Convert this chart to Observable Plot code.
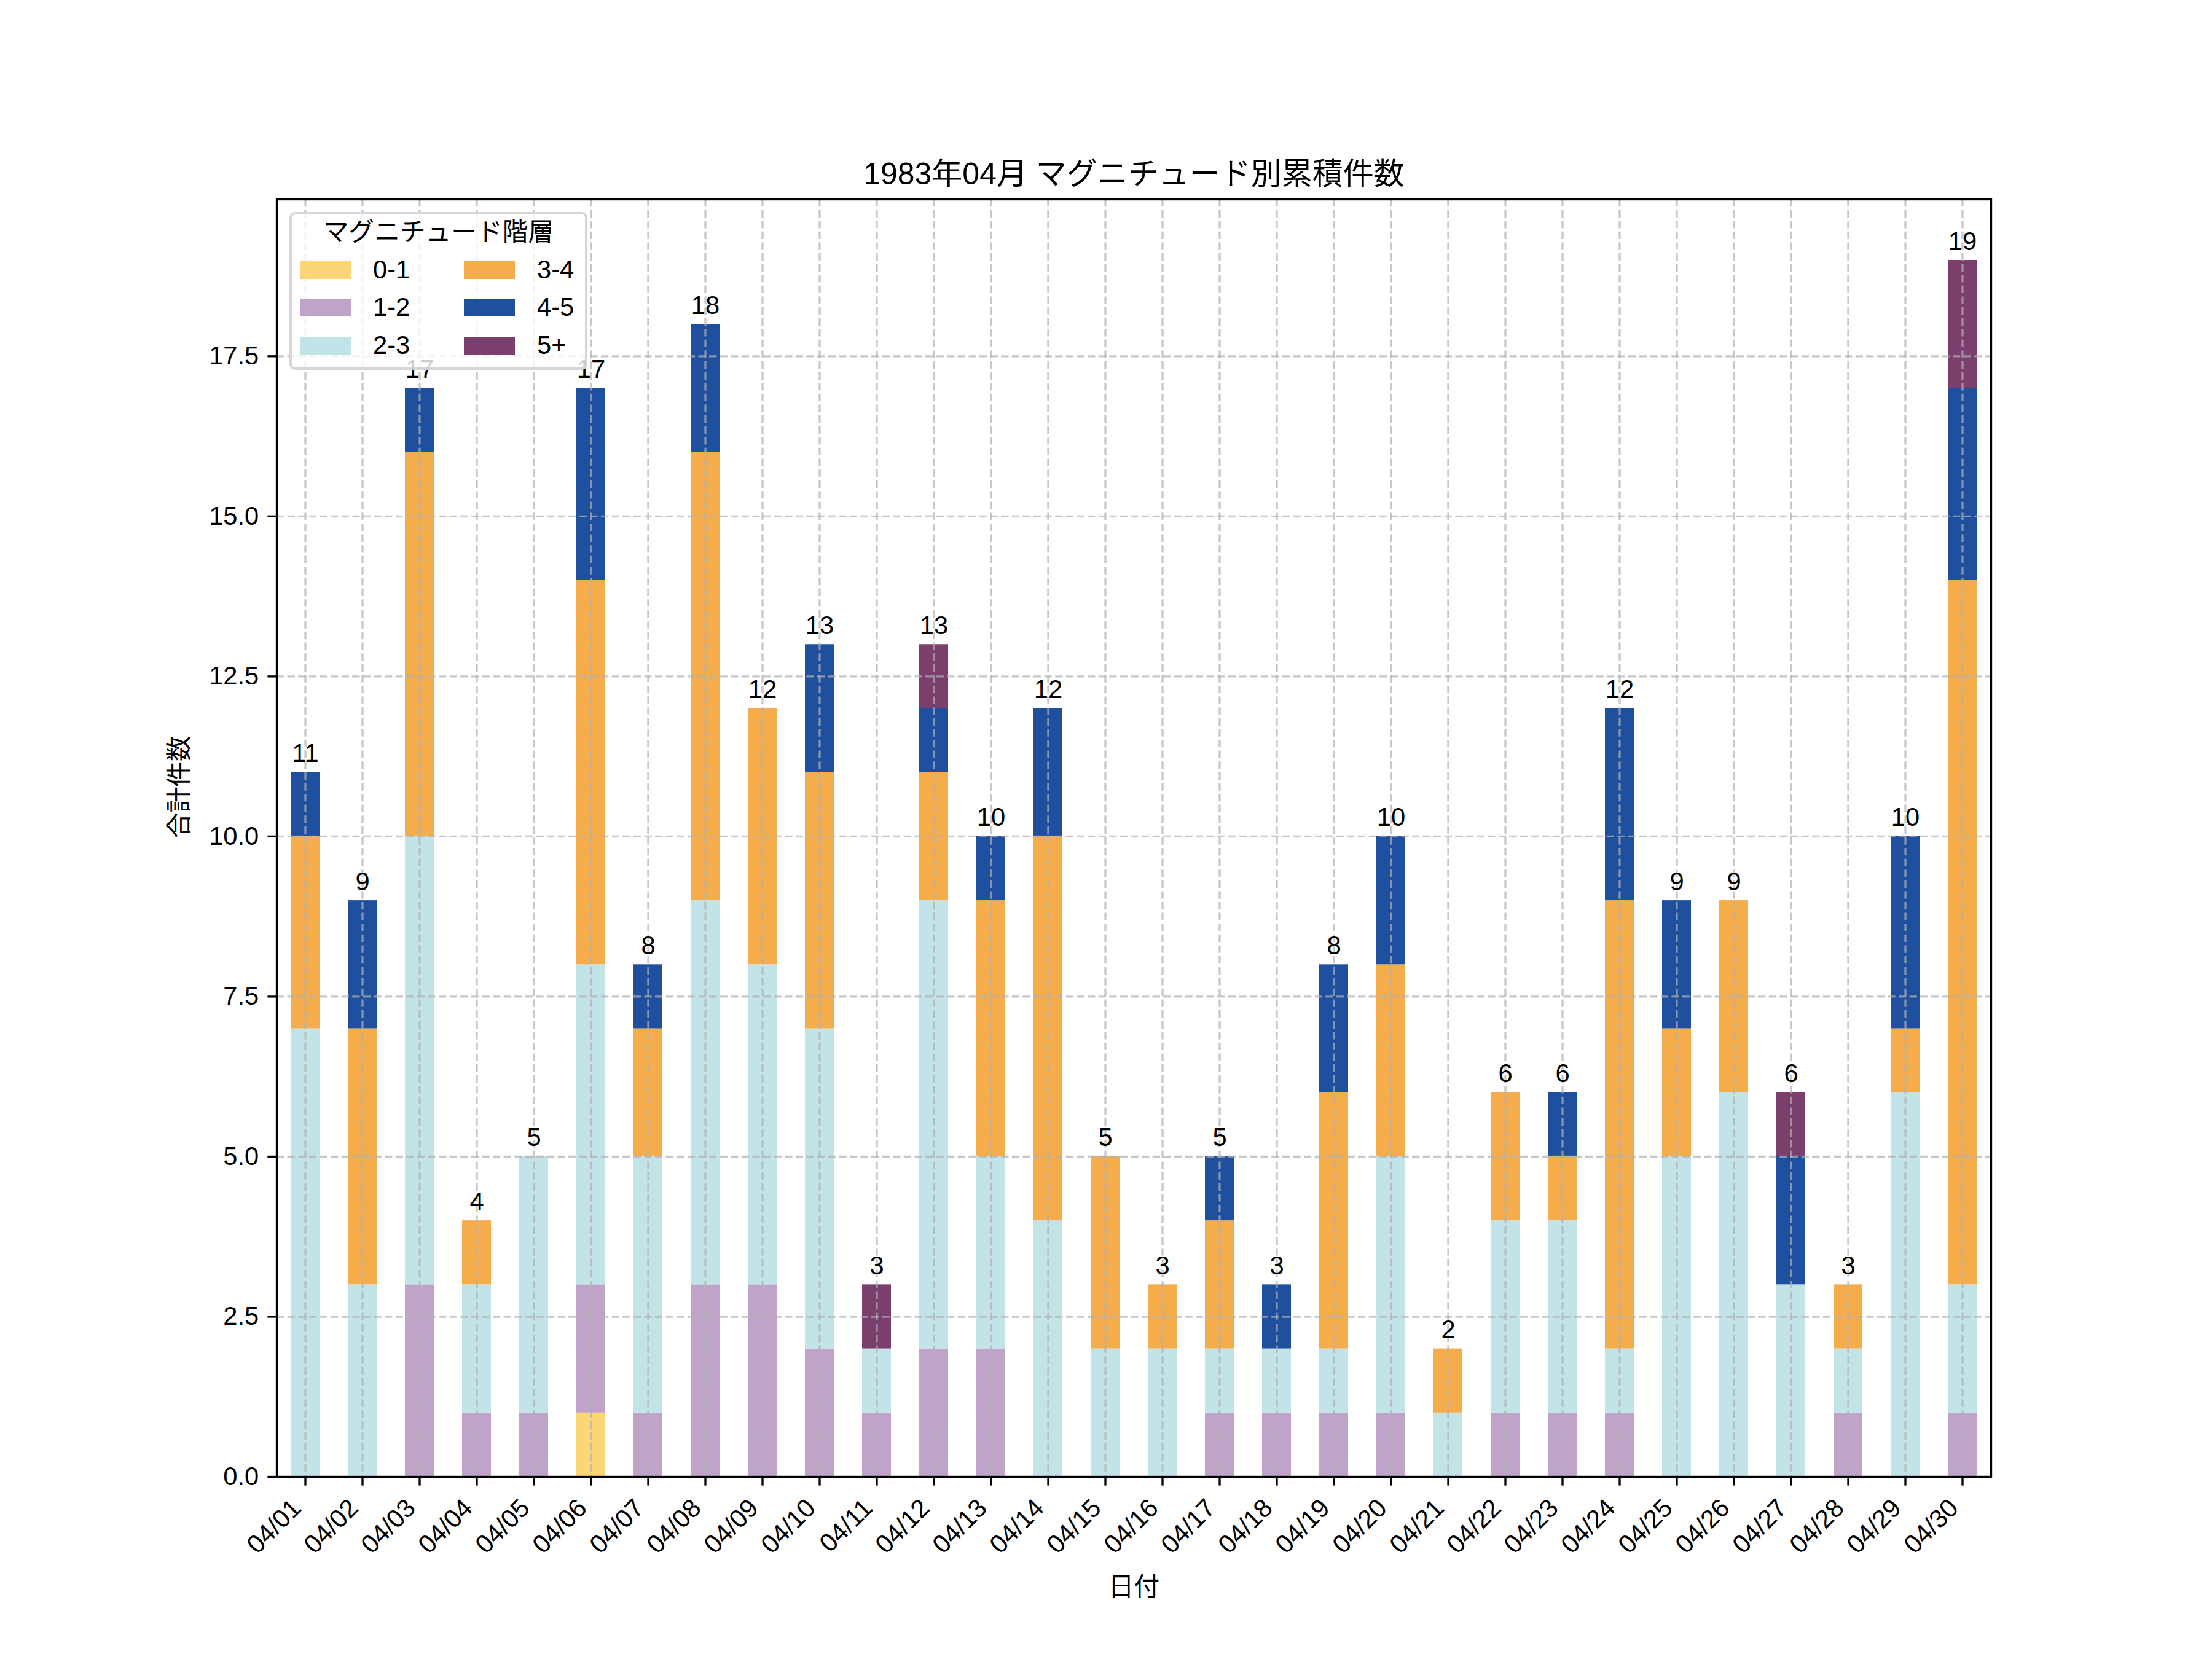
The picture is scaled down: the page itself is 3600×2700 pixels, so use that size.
<!DOCTYPE html>
<html>
<head>
<meta charset="utf-8">
<script src="https://cdn.jsdelivr.net/npm/d3@7"></script>
<script src="https://cdn.jsdelivr.net/npm/@observablehq/plot@0.6"></script>
<style>
  html, body { margin: 0; padding: 0; background: #fff; }
  #wrap { position: relative; width: 3600px; height: 2700px; font-family: "Liberation Sans", "Noto Sans CJK JP", sans-serif; }
  #legend { position: absolute; left: 471px; top: 345px; width: 485px; height: 257px; box-sizing: border-box;
            background: rgba(255,255,255,0.8); border: 4px solid rgba(204,204,204,0.8); border-radius: 9px; }
  #legend .t { position: absolute; left: 0; width: 100%; text-align: center; font-size: 41.7px; line-height: 1; }
  #legend .sw { position: absolute; width: 83px; height: 29px; }
  #legend .lb { position: absolute; font-size: 41.7px; line-height: 1; }
</style>
</head>
<body>
<div id="wrap"></div>
<script>
const dates = ["04/01","04/02","04/03","04/04","04/05","04/06","04/07","04/08","04/09","04/10",
               "04/11","04/12","04/13","04/14","04/15","04/16","04/17","04/18","04/19","04/20",
               "04/21","04/22","04/23","04/24","04/25","04/26","04/27","04/28","04/29","04/30"];
const categories = ["0-1","1-2","2-3","3-4","4-5","5+"];
const colors = ["#fcd576","#c0a3c8","#c2e4e8","#f5ad4b","#1f50a0","#7b3f6e"];
const m01 = [0,0,0,0,0,1,0,0,0,0, 0,0,0,0,0,0,0,0,0,0, 0,0,0,0,0,0,0,0,0,0];
const m12 = [0,0,3,1,1,2,1,3,3,2, 1,2,2,0,0,0,1,1,1,1, 0,1,1,1,0,0,0,1,0,1];
const m23 = [7,3,7,2,4,5,4,6,5,5, 1,7,3,4,2,2,1,1,1,4, 1,3,3,1,5,6,3,1,6,2];
const m34 = [3,4,6,1,0,6,2,7,4,4, 0,2,4,6,3,1,2,0,4,3, 1,2,1,7,2,3,0,1,1,11];
const m45 = [1,2,1,0,0,3,1,2,0,2, 0,1,1,2,0,0,1,1,2,2, 0,0,1,3,2,0,2,0,3,3];
const m5p = [0,0,0,0,0,0,0,0,0,0, 1,1,0,0,0,0,0,0,0,0, 0,0,0,0,0,0,1,0,0,2];
const yTicks = [0, 2.5, 5, 7.5, 10, 12.5, 15, 17.5];
const titleText = "1983年04月 マグニチュード別累積件数";
const xLabel = "日付";
const yLabel = "合計件数";

const series = [m01, m12, m23, m34, m45, m5p];
const rows = [];
dates.forEach((d, i) => {
  categories.forEach((c, k) => {
    const v = series[k][i];
    if (v > 0) rows.push({date: d, cat: c, value: v});
  });
});
const totals = dates.map((d, i) => ({date: d, total: series.reduce((s, a) => s + a[i], 0)}));

const FONT = "'Liberation Sans', 'Noto Sans CJK JP', sans-serif";
const FS = 41.7;
const LW = 3.33;

const chart = Plot.plot({
  width: 3600,
  height: 2700,
  marginLeft: 450,
  marginRight: 360,
  marginTop: 324,
  marginBottom: 297,
  style: {fontFamily: FONT, fontSize: FS + "px", color: "black", background: "white"},
  x: {domain: dates, type: "band", paddingInner: 0.5, paddingOuter: 0.25, axis: null},
  y: {domain: [0, 19.95], axis: null},
  color: {domain: categories, range: colors},
  marks: [
    Plot.barY(rows, Plot.stackY({x: "date", y: "value", fill: "cat", order: null})),
    Plot.gridX(dates, {stroke: "#b0b0b0", strokeOpacity: 0.7, strokeWidth: LW, strokeDasharray: "12.3,5.3"}),
    Plot.gridY(yTicks, {stroke: "#b0b0b0", strokeOpacity: 0.7, strokeWidth: LW, strokeDasharray: "12.3,5.3"}),
    Plot.frame({stroke: "black", strokeWidth: LW}),
    Plot.axisY(yTicks, {tickSize: 14.6, tickPadding: 14.6, tickFormat: d3.format(".1f"), fontSize: FS, strokeWidth: LW, label: null}),
    Plot.axisX(dates, {tickSize: 14.6, tickFormat: () => "", strokeWidth: LW, label: null}),
    Plot.text(dates, {x: d => d, y: () => 0, text: d => d, rotate: -45, textAnchor: "end", lineAnchor: "middle",
                      dx: -14, dy: 44, fontSize: FS, fontFamily: FONT, fill: "black"}),
    Plot.text(totals, {x: "date", y: "total", text: d => String(d.total), lineAnchor: "bottom", dy: -17,
                       fontSize: FS, fontFamily: FONT, fill: "black"}),
    Plot.text([titleText], {frameAnchor: "top", text: d => d, lineAnchor: "bottom", dy: -25, fontSize: 50, fontFamily: FONT, fill: "black"}),
    Plot.text([xLabel], {frameAnchor: "bottom", text: d => d, lineAnchor: "middle", dy: 180, fontSize: FS, fontFamily: FONT, fill: "black"}),
    Plot.text([yLabel], {frameAnchor: "left", text: d => d, lineAnchor: "middle", rotate: -90, dx: -158, fontSize: FS, fontFamily: FONT, fill: "black"})
  ]
});

const wrap = document.getElementById("wrap");
wrap.appendChild(chart);

// legend
const lg = document.createElement("div");
lg.id = "legend";
const t = document.createElement("div");
t.className = "t";
t.textContent = "マグニチュード階層";
t.style.top = (33 - 4 - FS * 0.5) + "px";
lg.appendChild(t);
const rowC = [94, 155, 217];
categories.forEach((c, k) => {
  const col = Math.floor(k / 3), r = k % 3;
  const sw = document.createElement("div");
  sw.className = "sw";
  sw.style.background = colors[k];
  sw.style.left = ((col ? 284 : 17) - 4) + "px";
  sw.style.top = (rowC[r] - 4 - 14.5) + "px";
  lg.appendChild(sw);
  const lb = document.createElement("div");
  lb.className = "lb";
  lb.textContent = c;
  lb.style.left = ((col ? 403 : 136) - 4) + "px";
  lb.style.top = (rowC[r] - 4 - FS * 0.5) + "px";
  lg.appendChild(lb);
});
wrap.appendChild(lg);
</script>
</body>
</html>
